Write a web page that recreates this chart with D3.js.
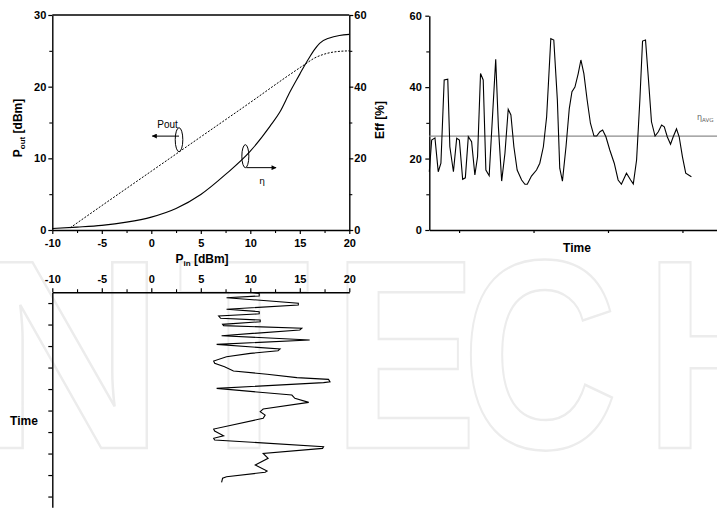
<!DOCTYPE html>
<html>
<head>
<meta charset="utf-8">
<script src="https://cdn.jsdelivr.net/npm/d3@7"></script>
<style>
  body { margin: 0; background: #fff; }
  svg { display: block; }
</style>
</head>
<body>
<svg id="chart" width="717" height="510"></svg>
<script>
// ---- Data ----
// Pout vs Pin sweep (left axis, dBm)
var poutPin = [-8.2, -5, 0, 5, 10, 14, 15.5, 16.5, 17.5, 18.5, 20];
var poutValue = [0.3, 3.4, 8.2, 13.0, 17.8, 21.7, 23.1, 24.0, 24.55, 24.85, 25.0];

// Efficiency vs Pin sweep (right axis, %)
var etaPin = [-10, -7.5, -5, -2.5, 0, 2.5, 5, 7.5, 10, 12, 13, 14, 15, 15.5, 16, 16.5, 17, 18, 19, 20];
var etaValue = [0.4, 0.8, 1.3, 2.2, 3.6, 6.0, 9.9, 15.5, 22.0, 29.0, 33.0, 38.5, 43.5, 46.0, 48.3, 50.4, 52.1, 53.6, 54.3, 54.6];

// Efficiency over time
var effTime = [0, 0.8, 1.9, 3.0, 3.9, 5.0, 6.2, 6.9, 8.1, 9.2, 10.1, 11.2, 12.1, 13.1, 14.2, 15.3, 16.2, 17.2, 18.1, 19.0,
  20.1, 22.3, 23.2, 24.3, 25.4, 26.5, 27.4, 28.4, 29.5, 31.0, 32.1, 32.9, 34.3, 36.0, 37.1, 38.3, 39.4, 40.0, 40.8, 41.8,
  43.0, 43.8, 44.7, 45.9, 47.0, 47.9, 48.9, 50.0, 50.9, 51.9, 53.0, 54.1, 55.3, 56.2, 57.3, 58.2, 59.3, 60.6, 62.1, 63.4,
  64.5, 66.2, 67.6, 68.5, 69.6, 70.7, 71.6, 72.6, 73.6, 74.6, 75.8, 76.9, 78.0, 78.9, 79.9, 81.0, 81.9, 83.0, 83.9, 85.0,
  86.1, 88.0];
var effValue = [16.3, 25.2, 25.8, 16.3, 18.7, 42.0, 42.2, 23.3, 16.3, 25.7, 25.2, 14.2, 14.6, 26.1, 24.7, 15.4, 20.5, 43.8, 42.0, 16.8,
  15.2, 47.8, 28.9, 13.7, 21.5, 33.8, 32.2, 23.3, 16.8, 14.0, 12.8, 12.8, 15.1, 16.8, 18.7, 23.3, 31.7, 41.0, 53.6, 53.2,
  36.4, 17.3, 13.7, 23.3, 34.0, 38.7, 40.0, 43.8, 47.6, 43.8, 36.4, 29.9, 26.3, 26.3, 27.5, 28.0, 26.1, 22.4, 18.7, 14.0,
  12.8, 15.9, 14.0, 12.9, 19.6, 36.4, 52.9, 53.2, 42.0, 30.3, 26.3, 27.5, 29.4, 28.9, 26.1, 24.0, 26.1, 28.3, 26.1, 20.5,
  15.9, 14.9];
var effAvg = 26.3;

// Pin over time (time runs downward)
var pinTime = [0, 0.5, 1.7, 2.5, 5.1, 5.9, 7.9, 9.0, 10.0, 11.0, 12.1, 12.9, 13.7, 14.9, 15.5, 16.7, 17.5, 20.2, 22.2, 24.2,
  26.4, 27.2, 28.4, 30.0, 32.0, 33.0, 34.6, 36.6, 38.1, 39.7, 40.5, 41.6, 42.0, 44.7, 47.8, 49.3, 51.2, 54.3, 55.5, 57.1,
  58.6, 63.6, 64.5, 66.7, 67.9, 68.7, 71.8, 72.6, 74.9, 77.2, 80.3, 83.1, 83.7, 85.8, 86.5, 88.4];
var pinValue = [10.0, 10.9, 10.9, 7.6, 14.85, 14.85, 7.6, 10.9, 10.9, 6.8, 7.0, 11.0, 11.0, 7.2, 7.3, 15.2, 15.0, 7.1, 16.0, 6.6,
  13.0, 12.8, 10.0, 7.6, 6.3, 6.4, 7.4, 8.3, 11.7, 14.7, 17.9, 18.05, 17.4, 6.6, 14.2, 14.5, 15.9, 11.3, 11.0, 11.5,
  11.3, 6.3, 6.4, 7.3, 6.3, 6.4, 17.4, 17.3, 11.3, 11.8, 10.5, 11.7, 11.5, 7.6, 7.2, 7.1];

// Ticks
var pinTicks = [-10, -5, 0, 5, 10, 15, 20];
var pinMinor = [-7.5, -2.5, 2.5, 7.5, 12.5, 17.5];
var poutTicks = [0, 10, 20, 30];
var poutMinor = [5, 15, 25];
var effTicks = [0, 20, 40, 60];
var effMinor = [10, 30, 50];
var timeTicksX = [10, 35, 60, 85];
var timeTicksY = [5, 15, 25, 35, 45, 55, 65, 75, 85, 95];

// Watermark letters
var markLetters = ["I", "N", "T", "E", "C", "H"];
var markX = [-95, -30, 178, 333, 462, 645];
var markScale = [0.8, 1.0, 0.8, 0.8, 0.8, 0.8];

// ---- Setup ----
var svg = d3.select("#chart")
  .attr("font-family", "'Liberation Sans', Arial, sans-serif");

// plain hyphen minus, as in the original plot
var plainFormat = function(d) { return String(d); };

// watermark
svg.append("g").selectAll("text")
  .data(markLetters)
  .enter().append("text")
    .attr("transform", function(d, i) { return "translate(" + markX[i] + ",448) scale(" + markScale[i] + ",1)"; })
    .attr("font-size", 270)
    .attr("font-weight", "bold")
    .attr("fill", "none")
    .attr("stroke", "#ececec")
    .attr("stroke-width", 2.5)
    .text(function(d) { return d; });

var xPin = d3.scaleLinear().domain([-10, 20]).range([52.3, 349.3]);
var yPout = d3.scaleLinear().domain([0, 30]).range([230, 15]);
var yEta = d3.scaleLinear().domain([0, 60]).range([230, 15]);

var xTime = d3.scaleLinear().domain([0, 96.6]).range([429.3, 717]);
var yEff = d3.scaleLinear().domain([0, 60]).range([230, 15.7]);

var yTime = d3.scaleLinear().domain([0, 100]).range([292.3, 507.3]);

function styleAxis(g) {
  g.selectAll("path.domain").attr("stroke", "#000").attr("stroke-width", 1.4);
  g.selectAll(".tick line").attr("stroke", "#000").attr("stroke-width", 1.2);
  g.selectAll(".tick text")
    .attr("font-family", "'Liberation Sans', Arial, sans-serif")
    .attr("font-size", 11)
    .attr("font-weight", "bold")
    .attr("fill", "#000");
}

function minorAxis(axis, values, transform) {
  var g = svg.append("g")
    .attr("transform", transform)
    .call(axis.tickValues(values).tickSize(3).tickFormat(""));
  g.select("path.domain").remove();
  g.selectAll(".tick line").attr("stroke", "#000").attr("stroke-width", 1.1);
}

// ---- Chart 1: Pout and eta vs Pin ----
svg.append("line")
  .attr("x1", xPin(-10)).attr("x2", xPin(20))
  .attr("y1", yPout(30)).attr("y2", yPout(30))
  .attr("stroke", "#000").attr("stroke-width", 1.4);

svg.append("g").attr("transform", "translate(0,230)")
  .call(d3.axisBottom(xPin).tickValues(pinTicks).tickFormat(plainFormat).tickSize(4).tickPadding(5).tickSizeOuter(0))
  .call(styleAxis);
minorAxis(d3.axisBottom(xPin), pinMinor, "translate(0,230)");

svg.append("g").attr("transform", "translate(" + xPin(-10) + ",0)")
  .call(d3.axisLeft(yPout).tickValues(poutTicks).tickFormat(plainFormat).tickSize(4).tickPadding(2).tickSizeOuter(0))
  .call(styleAxis);
minorAxis(d3.axisLeft(yPout), poutMinor, "translate(" + xPin(-10) + ",0)");

svg.append("g").attr("transform", "translate(" + xPin(20) + ",0)")
  .call(d3.axisRight(yEta).tickValues(effTicks).tickFormat(plainFormat).tickSize(4).tickPadding(1).tickSizeOuter(0))
  .call(styleAxis);
minorAxis(d3.axisRight(yEta), effMinor, "translate(" + xPin(20) + ",0)");

var poutLine = d3.line()
  .x(function(d, i) { return xPin(poutPin[i]); })
  .y(function(d) { return yPout(d); })
  .curve(d3.curveMonotoneX);

svg.append("path")
  .datum(poutValue)
  .attr("d", poutLine)
  .attr("fill", "none")
  .attr("stroke", "#000")
  .attr("stroke-width", 1)
  .attr("stroke-dasharray", "2,1.5");

var etaLine = d3.line()
  .x(function(d, i) { return xPin(etaPin[i]); })
  .y(function(d) { return yEta(d); })
  .curve(d3.curveMonotoneX);

svg.append("path")
  .datum(etaValue)
  .attr("d", etaLine)
  .attr("fill", "none")
  .attr("stroke", "#000")
  .attr("stroke-width", 1.1);

// annotations
svg.append("defs").append("marker")
  .attr("id", "arrow")
  .attr("viewBox", "0 0 10 10")
  .attr("refX", 9).attr("refY", 5)
  .attr("markerWidth", 7).attr("markerHeight", 5)
  .attr("markerUnits", "userSpaceOnUse")
  .attr("orient", "auto")
  .append("path").attr("d", "M0,0L10,5L0,10z").attr("fill", "#000");

svg.append("ellipse")
  .attr("cx", xPin(2.8)).attr("cy", yPout(12.6))
  .attr("rx", 3.8).attr("ry", 12)
  .attr("fill", "none").attr("stroke", "#000").attr("stroke-width", 1);
svg.append("line")
  .attr("x1", xPin(2.8)).attr("x2", xPin(0.1))
  .attr("y1", yPout(13.1)).attr("y2", yPout(13.1))
  .attr("stroke", "#000").attr("stroke-width", 1)
  .attr("marker-end", "url(#arrow)");
svg.append("text")
  .attr("x", xPin(0.6)).attr("y", yPout(14.2))
  .attr("font-size", 10)
  .attr("font-family", "'Liberation Sans', Arial, sans-serif")
  .text("Pout");

svg.append("ellipse")
  .attr("cx", xPin(9.5)).attr("cy", yEta(20.6))
  .attr("rx", 3.5).attr("ry", 11.5)
  .attr("fill", "none").attr("stroke", "#000").attr("stroke-width", 1);
svg.append("line")
  .attr("x1", xPin(9.6)).attr("x2", xPin(12.6))
  .attr("y1", yEta(17.4)).attr("y2", yEta(17.4))
  .attr("stroke", "#000").attr("stroke-width", 1)
  .attr("marker-end", "url(#arrow)");
svg.append("text")
  .attr("x", xPin(10.9)).attr("y", yEta(12.8))
  .attr("font-size", 9)
  .attr("font-family", "'DejaVu Sans', sans-serif")
  .text("η");

// axis titles
var poutTitle = svg.append("text")
  .attr("transform", "translate(22,128) rotate(-90)")
  .attr("text-anchor", "middle")
  .attr("font-size", 12)
  .attr("font-weight", "bold");
poutTitle.append("tspan").text("P");
poutTitle.append("tspan").attr("font-size", 8).attr("dy", 3).text("out");
poutTitle.append("tspan").attr("dy", -3).text(" [dBm]");

svg.append("text")
  .attr("transform", "translate(384,120) rotate(-90)")
  .attr("text-anchor", "middle")
  .attr("font-size", 12)
  .attr("font-weight", "bold")
  .text("Eff [%]");

var pinTitle = svg.append("text")
  .attr("x", 202).attr("y", 263)
  .attr("text-anchor", "middle")
  .attr("font-size", 12)
  .attr("font-weight", "bold");
pinTitle.append("tspan").text("P");
pinTitle.append("tspan").attr("font-size", 8).attr("dy", 3).text("in");
pinTitle.append("tspan").attr("dy", -3).text(" [dBm]");

// ---- Chart 2: efficiency over time ----
svg.append("g").attr("transform", "translate(0,230)")
  .call(d3.axisBottom(xTime).tickValues(timeTicksX).tickSize(3).tickFormat("").tickSizeOuter(0))
  .call(styleAxis);

svg.append("g").attr("transform", "translate(" + xTime(0) + ",0)")
  .call(d3.axisLeft(yEff).tickValues(effTicks).tickFormat(plainFormat).tickSize(4).tickPadding(3.5).tickSizeOuter(0))
  .call(styleAxis);
minorAxis(d3.axisLeft(yEff), effMinor, "translate(" + xTime(0) + ",0)");

svg.append("line")
  .attr("x1", xTime(0)).attr("x2", 717)
  .attr("y1", yEff(effAvg)).attr("y2", yEff(effAvg))
  .attr("stroke", "#8c8c8c").attr("stroke-width", 1.2);

var effLine = d3.line()
  .x(function(d, i) { return xTime(effTime[i]); })
  .y(function(d) { return yEff(d); });

svg.append("path")
  .datum(effValue)
  .attr("d", effLine)
  .attr("fill", "none")
  .attr("stroke", "#000")
  .attr("stroke-width", 1.1);

var avgLabel = svg.append("text")
  .attr("x", 697).attr("y", yEff(effAvg) - 16)
  .attr("font-size", 8)
  .attr("fill", "#666")
  .attr("font-family", "'DejaVu Sans', sans-serif");
avgLabel.append("tspan").text("η");
avgLabel.append("tspan").attr("font-size", 5.5).attr("dy", 2).text("AVG");

svg.append("text")
  .attr("x", 577).attr("y", 252)
  .attr("text-anchor", "middle")
  .attr("font-size", 12)
  .attr("font-weight", "bold")
  .text("Time");

// ---- Chart 3: Pin over time ----
svg.append("g").attr("transform", "translate(0," + yTime(0) + ")")
  .call(d3.axisTop(xPin).tickValues(pinTicks).tickFormat(plainFormat).tickSize(4).tickPadding(5).tickSizeOuter(0))
  .call(styleAxis);
minorAxis(d3.axisTop(xPin), pinMinor, "translate(0," + yTime(0) + ")");

svg.append("g").attr("transform", "translate(" + xPin(-10) + ",0)")
  .call(d3.axisLeft(yTime).tickValues(timeTicksY).tickSize(4).tickFormat("").tickSizeOuter(0))
  .call(styleAxis);

var pinLine = d3.line()
  .x(function(d) { return xPin(d); })
  .y(function(d, i) { return yTime(pinTime[i]); });

svg.append("path")
  .datum(pinValue)
  .attr("d", pinLine)
  .attr("fill", "none")
  .attr("stroke", "#000")
  .attr("stroke-width", 1.1);

svg.append("text")
  .attr("x", 24).attr("y", 425)
  .attr("text-anchor", "middle")
  .attr("font-size", 12)
  .attr("font-weight", "bold")
  .text("Time");
</script>
</body>
</html>
